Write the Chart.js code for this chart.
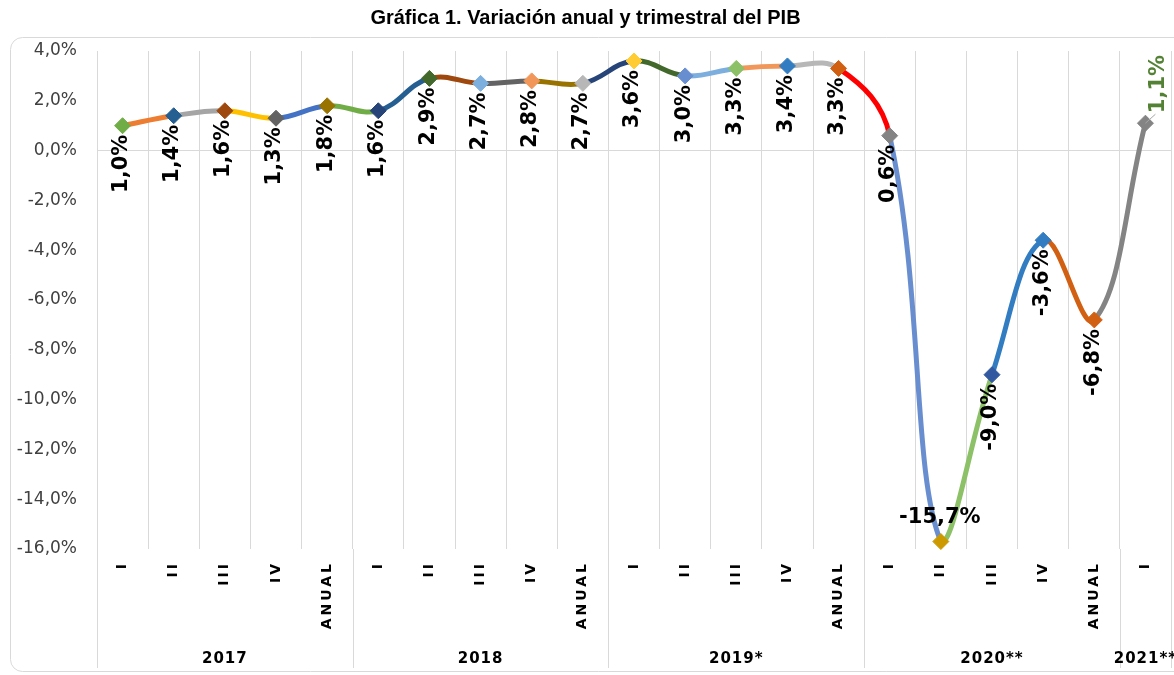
<!DOCTYPE html>
<html>
<head>
<meta charset="utf-8">
<script src="https://cdn.jsdelivr.net/npm/chart.js@4"></script>
<style>
  html, body { margin: 0; background: #fff; }
  #wrap { width: 1174px; height: 675px; position: relative; }
</style>
</head>
<body>
<div id="wrap"><canvas id="pibChart"></canvas></div>
<script>
// datos de la gráfica
const quarters = ['I', 'II', 'III', 'IV', 'ANUAL',
                  'I', 'II', 'III', 'IV', 'ANUAL',
                  'I', 'II', 'III', 'IV', 'ANUAL',
                  'I', 'II', 'III', 'IV', 'ANUAL',
                  'I'];
const years = ['2017', '2018', '2019*', '2020**', '2021**'];
const yearSpans = [5, 5, 5, 5, 1];
const pib = [1.0, 1.4, 1.6, 1.3, 1.8,
             1.6, 2.9, 2.7, 2.8, 2.7,
             3.6, 3.0, 3.3, 3.4, 3.3,
             0.6, -15.7, -9.0, -3.6, -6.8,
             1.1];
const yTicks = [4, 2, 0, -2, -4, -6, -8, -10, -12, -14, -16];

// colores por tramo y por marcador (estilo Excel)
const segColors = ['#ED7D31', '#A5A5A5', '#FFC000', '#4472C4', '#70AD47',
                   '#255E91', '#9E480E', '#636363', '#997300', '#264478',
                   '#43682B', '#7CAFDD', '#F1975A', '#B7B7B7', '#FF0000',
                   '#698ED0', '#8CC168', '#327DC2', '#D26012', '#848484'];
const markerColors = ['#70AD47', '#255E91', '#9E480E', '#636363', '#997300',
                      '#264478', '#43682B', '#7CAFDD', '#F1975A', '#B7B7B7',
                      '#FFCD33', '#698ED0', '#8CC168', '#327DC2', '#D26012',
                      '#848484', '#CC9A00', '#335AA1', '#327DC2', '#D26012',
                      '#848484'];
// donde va cada etiqueta: debajo (rotada), plana o arriba
const labelPlace = ['below', 'below', 'below', 'below', 'below',
                    'below', 'below', 'below', 'below', 'below',
                    'below', 'below', 'below', 'below', 'below',
                    'below', 'flat', 'below', 'below', 'below',
                    'above'];

const fmt = v => v.toFixed(1).replace('.', ',') + '%';

const frame = {
  id: 'frame',
  beforeDraw(chart) {
    const ctx = chart.ctx;
    ctx.letterSpacing = '0px';
    ctx.save();
    ctx.strokeStyle = '#d9d9d9';
    ctx.lineWidth = 1;
    ctx.beginPath();
    ctx.roundRect(10.5, 37.5, 1180, 634, 12);
    ctx.stroke();
    ctx.restore();
  }
};

const pointLabels = {
  id: 'pointLabels',
  afterDatasetsDraw(chart) {
    const ctx = chart.ctx;
    const pts = chart.getDatasetMeta(0).data;
    ctx.save();
    ctx.font = 'bold 21px "DejaVu Sans"';
    pts.forEach((p, i) => {
      const txt = fmt(pib[i]);
      const place = labelPlace[i];
      ctx.fillStyle = place === 'above' ? '#548235' : '#000';
      if (place === 'flat') {
        ctx.textAlign = 'center';
        ctx.textBaseline = 'middle';
        ctx.fillText(txt, p.x - 1, p.y - 24);
        return;
      }
      ctx.save();
      if (place === 'above') {
        ctx.strokeStyle = '#a6a6a6';
        ctx.lineWidth = 1;
        ctx.beginPath();
        ctx.moveTo(p.x, p.y);
        ctx.lineTo(p.x + 10, p.y - 9);
        ctx.stroke();
        ctx.translate(p.x + 13, p.y - 10);
        ctx.rotate(-Math.PI / 2);
        ctx.textAlign = 'left';
      } else {
        ctx.translate(p.x - 1, p.y + 9);
        ctx.rotate(-Math.PI / 2);
        ctx.textAlign = 'right';
      }
      ctx.textBaseline = 'middle';
      ctx.fillText(txt, 0, 0);
      ctx.restore();
    });
    ctx.restore();
    // los rótulos del eje x se dibujan después, espaciados
    ctx.letterSpacing = '3px';
  },
  afterDraw(chart) {
    const ctx = chart.ctx;
    const xs = chart.scales.x;
    const area = chart.chartArea;
    ctx.save();
    ctx.strokeStyle = '#d9d9d9';
    ctx.lineWidth = 1;
    ctx.fillStyle = '#000';
    ctx.font = 'bold 15px "DejaVu Sans"';
    ctx.letterSpacing = '1px';
    ctx.textAlign = 'center';
    ctx.textBaseline = 'middle';
    let start = 0;
    years.forEach((yr, k) => {
      const left = xs.getPixelForValue(start - 0.5);
      const right = xs.getPixelForValue(start + yearSpans[k] - 0.5);
      [left, right].forEach(x => {
        const px = Math.round(x) + 0.5;
        ctx.beginPath();
        ctx.moveTo(px, area.bottom);
        ctx.lineTo(px, 668);
        ctx.stroke();
      });
      ctx.fillText(yr, (left + right) / 2, 659);
      start += yearSpans[k];
    });
    ctx.restore();
    ctx.letterSpacing = '0px';
  }
};

new Chart(document.getElementById('pibChart'), {
  type: 'line',
  data: {
    labels: quarters,
    datasets: [{
      data: pib,
      borderWidth: 5,
      tension: 0.4,
      clip: 12,
      segment: {
        borderColor: ctx => segColors[ctx.p0DataIndex]
      },
      borderColor: segColors[0],
      pointStyle: 'rectRot',
      pointRadius: 8,
      pointBorderWidth: 1,
      pointBackgroundColor: markerColors,
      pointBorderColor: markerColors
    }]
  },
  options: {
    responsive: true,
    maintainAspectRatio: false,
    animation: false,
    layout: { autoPadding: false, padding: { left: 0, right: 3, top: 0, bottom: 0 } },
    plugins: {
      legend: { display: false },
      tooltip: { enabled: false },
      title: {
        display: true,
        text: 'Gráfica 1. Variación anual y trimestral del PIB',
        color: '#000',
        font: { family: '"Liberation Sans", Arial, sans-serif', size: 20, weight: 'bold' },
        padding: { top: 6, bottom: 21 }
      }
    },
    scales: {
      x: {
        offset: true,
        grid: { offset: true, color: '#d9d9d9', lineWidth: 1, drawTicks: false },
        border: { display: false },
        ticks: {
          z: 1,
          autoSkip: false,
          minRotation: 90,
          maxRotation: 90,
          padding: 12,
          color: '#000',
          font: { family: '"DejaVu Sans"', size: 14, weight: 'bold' }
        },
        afterFit(scale) {
          scale.height = 126;
          scale.paddingLeft = 0;
          scale.paddingRight = 0;
        }
      },
      y: {
        min: -16,
        max: 4,
        afterBuildTicks(scale) { scale.ticks = yTicks.map(v => ({ value: v })); },
        grid: {
          drawTicks: false,
          color: c => c.tick && c.tick.value === 0 ? '#d9d9d9' : 'rgba(0,0,0,0)'
        },
        border: { display: false },
        ticks: {
          padding: 20,
          color: '#404040',
          font: { family: '"DejaVu Sans"', size: 17 },
          callback: v => fmt(v)
        },
        afterFit(scale) { scale.width = 97; }
      }
    }
  },
  plugins: [frame, pointLabels]
});
</script>
</body>
</html>
